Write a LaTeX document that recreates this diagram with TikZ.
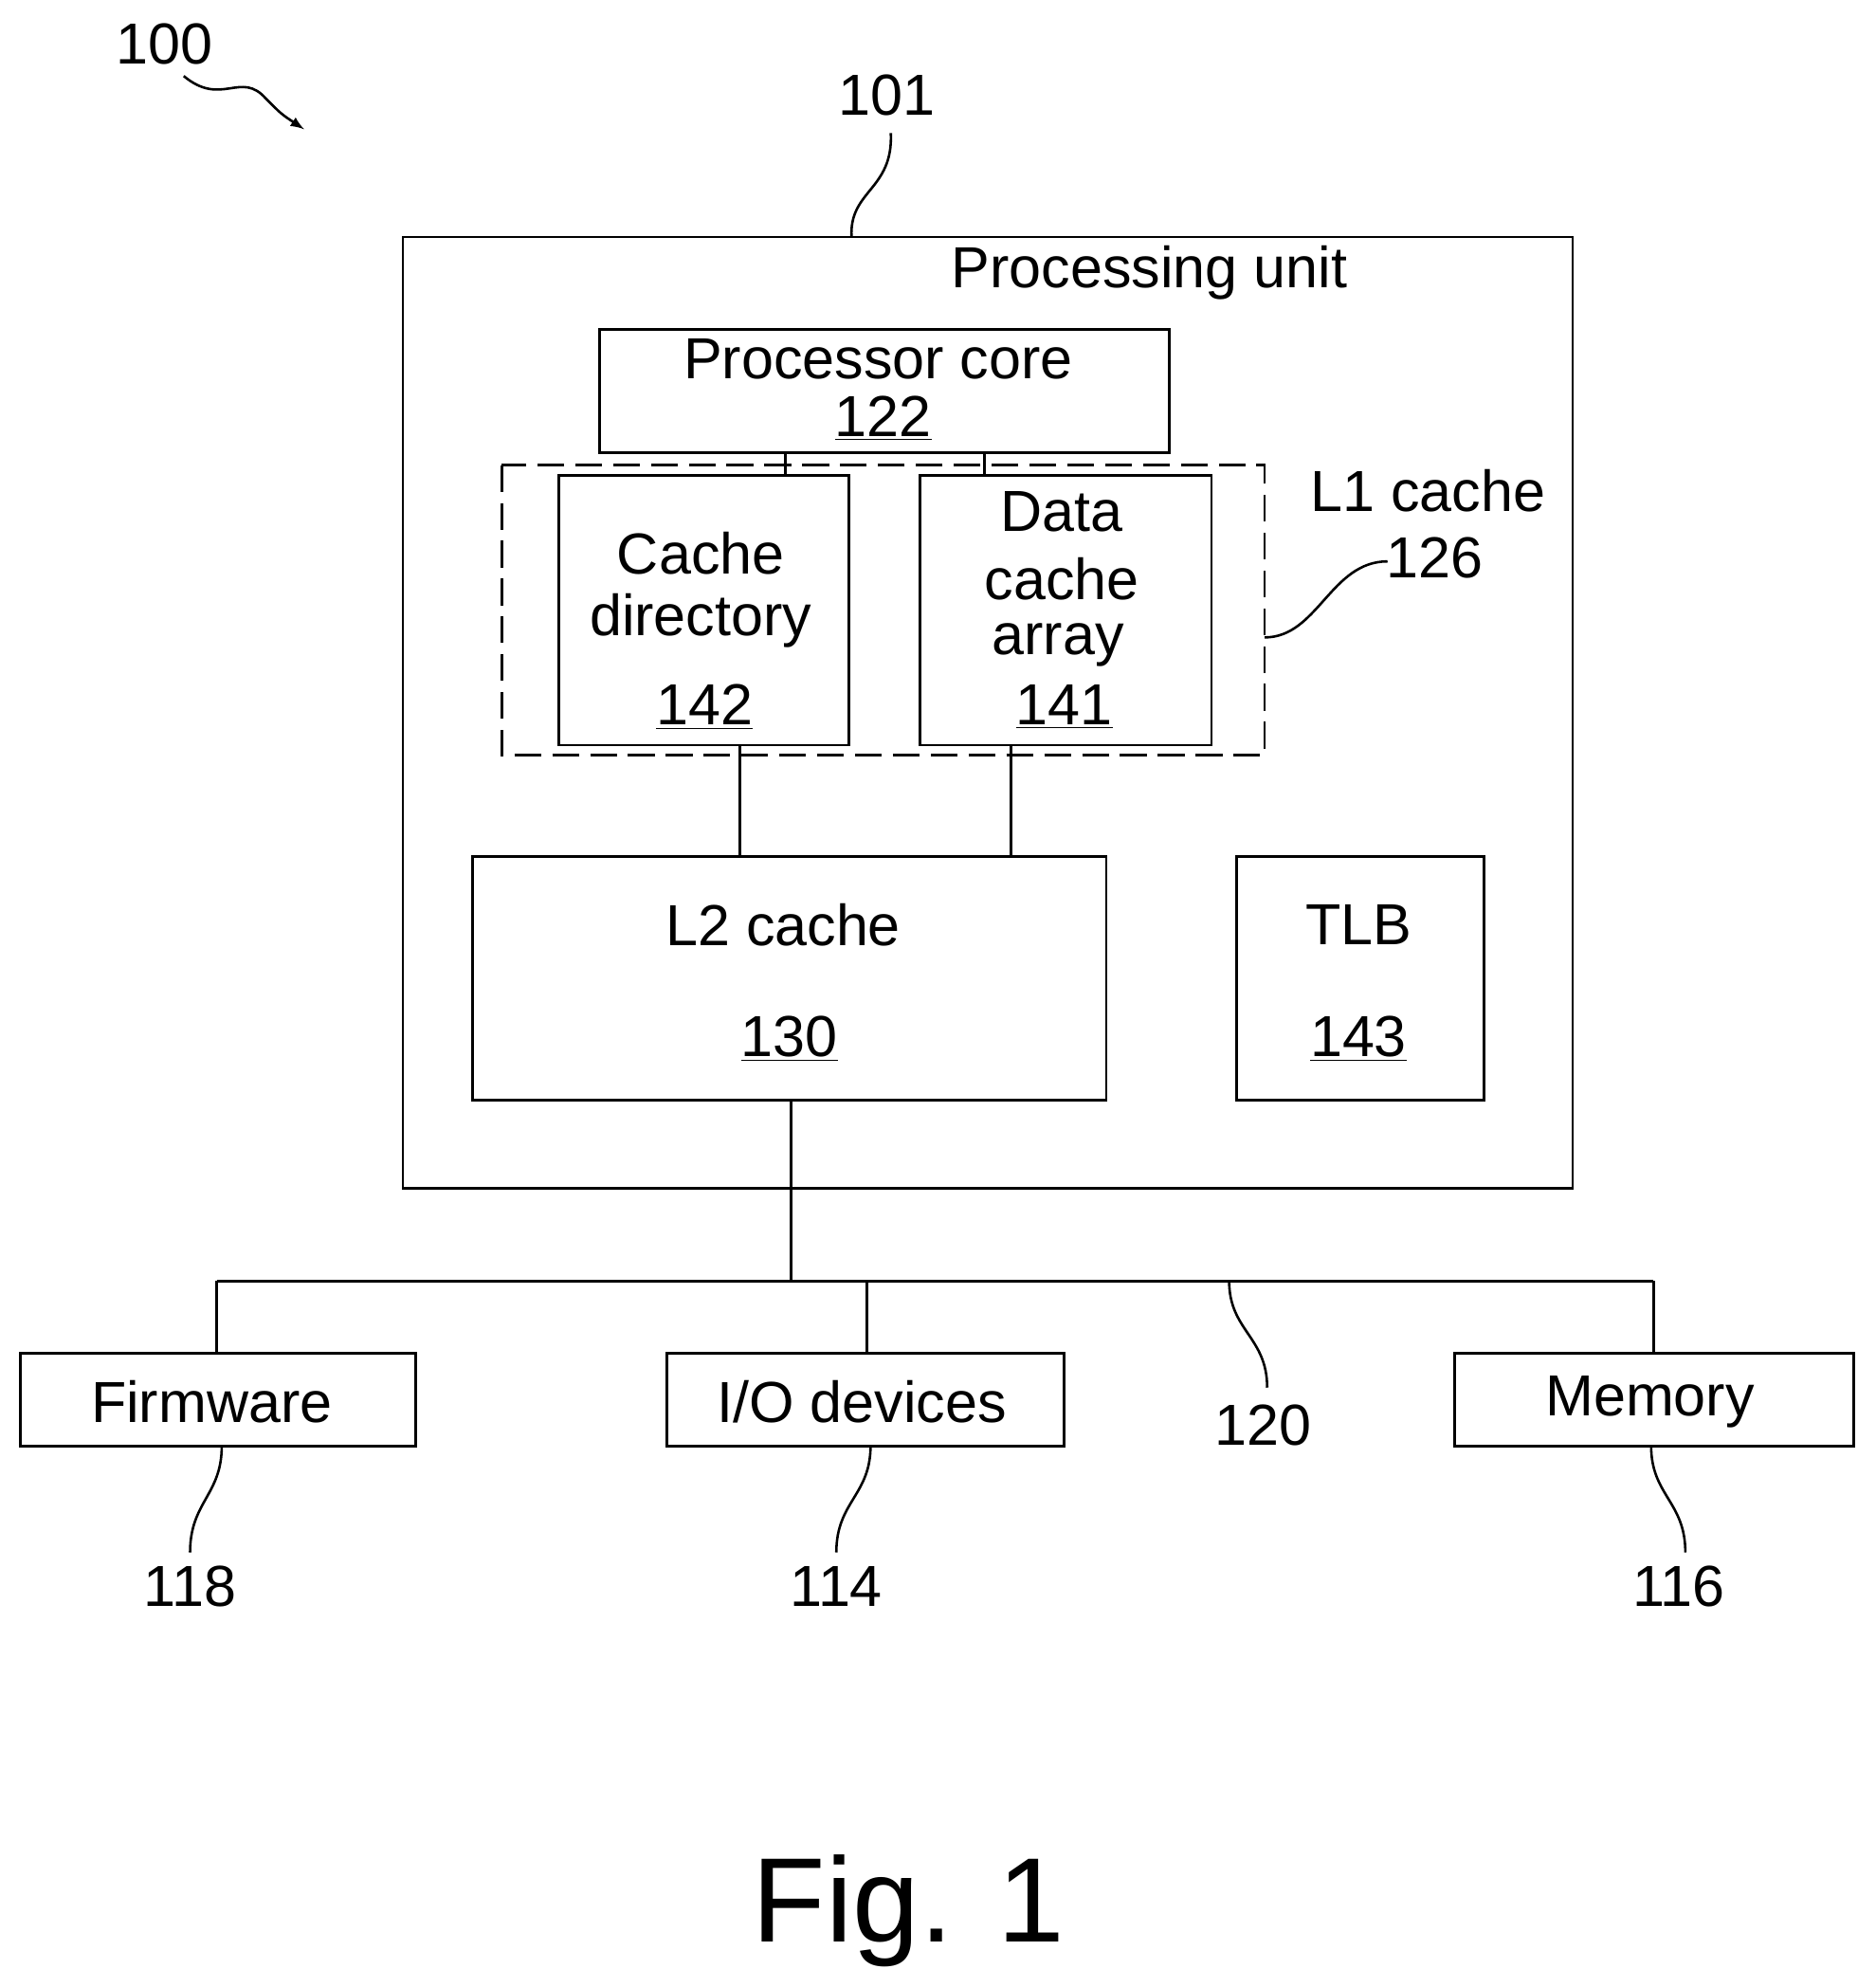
\documentclass[tikz,border=0pt]{standalone}
\usepackage{fontspec}
\setmainfont{Liberation Sans}
\begin{document}
\begin{tikzpicture}[x=0.02cm,y=-0.02cm,
  box/.style={draw,line width=1.2pt},
  ln/.style={line width=1.2pt},
  txt/.style={font=\fontsize{26}{30}\selectfont,inner sep=0pt},
  sq/.style={line width=1.1pt}]
\useasboundingbox (0,0) rectangle (1480,1568);
% boxes
\draw[box] (318,187) rectangle (1241,938);
\draw[box] (473,260) rectangle (923,357);
\draw[box,dashed,dash pattern=on 12pt off 5pt] (396,367) rectangle (998,596);
\draw[box] (441,375) rectangle (670,588);
\draw[box] (726,375) rectangle (956,588);
\draw[box] (373,676) rectangle (873,868);
\draw[box] (976,676) rectangle (1171,868);
\draw[box] (16,1068) rectangle (328,1141);
\draw[box] (526,1068) rectangle (840,1141);
\draw[box] (1148,1068) rectangle (1463,1141);
% named anchors
\coordinate (pc1) at (620,357); \coordinate (cd1) at (620,375);
\coordinate (pc2) at (777,357); \coordinate (da1) at (777,375);
\coordinate (cd2) at (584,588); \coordinate (l2a) at (584,676);
\coordinate (da2) at (798,588); \coordinate (l2b) at (798,676);
\coordinate (l2c) at (624,868); \coordinate (bus) at (624,1011);
\coordinate (bl) at (171,1011); \coordinate (br) at (1305,1011);
\coordinate (bm) at (684,1011);
\coordinate (fw) at (171,1068); \coordinate (io) at (684,1068); \coordinate (mem) at (1305,1068);
\draw[ln] (pc1)--(cd1); \draw[ln] (pc2)--(da1);
\draw[ln] (cd2)--(l2a); \draw[ln] (da2)--(l2b);
\draw[ln] (l2c)--(bus); \draw[ln] (bl)--(br);
\draw[ln] (bl)--(fw); \draw[ln] (bm)--(io); \draw[ln] (br)--(mem);
% texts
\node[txt] (t100) at (130,35) {100};
\node[txt] (t101) at (700,75) {101};
\node[txt] (tpu) at (907,215) {Processing unit};
\node[txt] (tpc) at (693,283) {Processor core};
\node[txt] (t122) at (697,330) {\underline{122}};
\node[txt] (tcd1) at (553,437) {Cache};
\node[txt] (tcd2) at (553,490) {directory};
\node[txt] (t142) at (556,558) {\underline{142}};
\node[txt] (td1) at (838,404) {Data};
\node[txt] (td2) at (838,457) {cache};
\node[txt] (td3) at (835,509) {array};
\node[txt] (t141) at (840,558) {\underline{141}};
\node[txt] (tl1) at (1127,387) {L1 cache};
\node[txt] (t126) at (1132,440) {126};
\node[txt] (tl2) at (618,730) {L2 cache};
\node[txt] (t130) at (623,820) {\underline{130}};
\node[txt] (ttlb) at (1072,730) {TLB};
\node[txt] (t143) at (1072,820) {\underline{143}};
\node[txt] (tfw) at (167,1106) {Firmware};
\node[txt] (tio) at (680,1106) {I/O devices};
\node[txt] (tmem) at (1302,1106) {Memory};
\node[txt] (t120) at (997,1125) {120};
\node[txt] (t118) at (150,1252) {118};
\node[txt] (t114) at (660,1252) {114};
\node[txt] (t116) at (1325,1252) {116};
\node[inner sep=0pt,font=\fontsize{54}{60}\selectfont] (fig) at (717,1508) {Fig. 1};
% squiggles
\draw[sq,-latex] (145,60) .. controls (175,85) and (190,55) .. (210,78) .. controls (222,90) .. (240,102);
\draw[sq] (703,105) .. controls (705,150) and (670,150) .. (672,187);
\draw[sq] (998,503) .. controls (1040,503) and (1050,443) .. (1095,443);
\draw[sq] (970,1011) .. controls (970,1050) and (1000,1055) .. (1000,1095);
\draw[sq] (175,1141) .. controls (175,1180) and (150,1185) .. (150,1225);
\draw[sq] (687,1141) .. controls (687,1180) and (660,1185) .. (660,1225);
\draw[sq] (1303,1141) .. controls (1303,1180) and (1330,1185) .. (1330,1225);
\end{tikzpicture}
\end{document}
